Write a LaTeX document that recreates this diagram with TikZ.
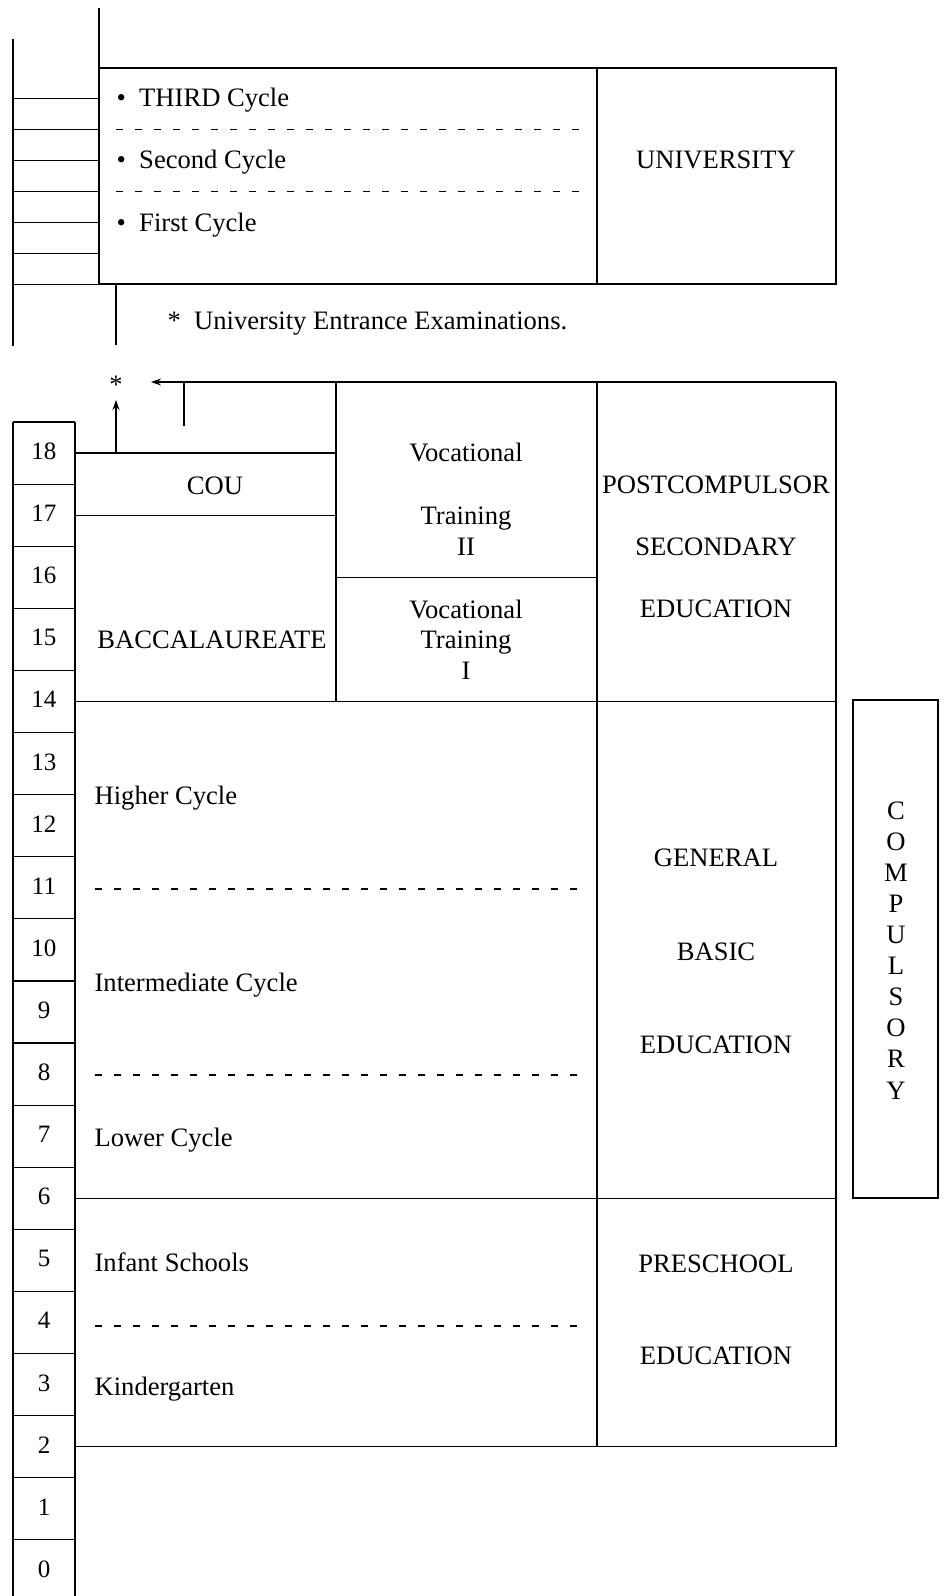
\documentclass[tikz,border=0pt]{standalone}
\usepackage{fontspec}
\setmainfont{Liberation Serif}
\usepackage{tikz}
\usetikzlibrary{arrows.meta}

\begin{document}
\begin{tikzpicture}[x=0.5pt,y=-0.5pt,line width=0.6pt,>={Stealth[length=5pt,width=3.5pt]},
    every node/.style={font=\fontsize{13.3}{16}\selectfont,inner sep=0pt,text height=10pt,text depth=0.5pt},
    cycline/.style={dash pattern=on 3.5pt off 6pt},
    agenum/.style={font=\fontsize{12.5}{15}\selectfont,text height=9pt,text depth=2.5pt}]
    \useasboundingbox (0,0) rectangle (944,1596);
    % university
    \draw (99,8) -- (99,284);
    \draw (13,38.7) -- (13,346);
    \foreach \r in {0,...,6} \draw (13,98.8+30.9*\r) -- (99,98.8+30.9*\r);
    \draw (99,68) rectangle (836,284);
    \draw (597,68) -- (597,284);
    \draw[cycline] (116,129.7) -- (586,129.7);
    \draw[cycline] (116,191.5) -- (586,191.5);
    \node[anchor=west] (third) at (116,96.7) {\textbullet\hspace{0.5em}THIRD Cycle};
    \node[anchor=west] (second) at (116,158.9) {\textbullet\hspace{0.5em}Second Cycle};
    \node[anchor=west] (first) at (116,222) {\textbullet\hspace{0.5em}First Cycle};
    \node (univ) at (716,158.9) {UNIVERSITY};
    % nota
    \draw (116,284) -- (116,345);
    \node[anchor=west] (note) at (167,320) {*\hspace{0.5em}University Entrance Examinations.};
    % edades
    \draw (13,422) -- (13,1596);
    \draw (75,422) -- (75,1596);
    \foreach \a in {0,...,18} {
        \pgfmathsetmacro{\ya}{422+(18.5-\a)*62.1}
        \node[agenum] (age\a) at (44,\ya) {\a};
        \draw (13,\ya-31.05) -- (75,\ya-31.05);
    }
    % secundaria
    \coordinate (vtop) at (336,382);
    \coordinate (leftTip) at (151,382);
    \coordinate (couTop) at (116,453.05);
    \coordinate (upTip) at (116,400);
    \draw (836,382) -- (vtop);
    \draw[->] (vtop) -- (leftTip);
    \draw (184,382) -- (184,425.6);
    \draw[->] (couTop) -- (upTip);
    \node (star) at (116,384) {*};
    \draw (75,453.05) -- (336,453.05);
    \draw (75,515.15) -- (336,515.15);
    \draw (vtop) -- (336,701.45);
    \draw (336,577.25) -- (597,577.25);
    \draw (75,701.45) -- (836,701.45);
    \draw (75,1198.25) -- (836,1198.25);
    \draw (75,1446.65) -- (836,1446.65);
    \draw (597,382) -- (597,1446.65);
    \draw (836,382) -- (836,1446.65);
    \node (cou) at (215,485) {COU};
    \node (bac) at (212,639) {BACCALAUREATE};
    \node (voc2a) at (466,452) {Vocational};
    \node (voc2b) at (466,515) {Training};
    \node (voc2c) at (466,546) {II};
    \node (voc1a) at (466,609) {Vocational};
    \node (voc1b) at (466,639) {Training};
    \node (voc1c) at (466,670) {I};
    \node (post1) at (716,484) {POSTCOMPULSOR};
    \node (post2) at (716,546) {SECONDARY};
    \node (post3) at (716,608) {EDUCATION};
    % EGB
    \node[anchor=west] (higher) at (94,795) {Higher Cycle};
    \draw[cycline] (95,889) -- (586,889);
    \node[anchor=west] (inter) at (94,982) {Intermediate Cycle};
    \draw[cycline] (95,1075) -- (586,1075);
    \node[anchor=west] (lower) at (94,1137) {Lower Cycle};
    \node (gen1) at (716,857) {GENERAL};
    \node (gen2) at (716,951) {BASIC};
    \node (gen3) at (716,1044) {EDUCATION};
    % obligatoria
    \draw (853,700) rectangle (938,1198);
    \foreach \l [count=\i from 0] in {C,O,M,P,U,L,S,O,R,Y}
        \node (comp\i) at (896,809.6+31.1*\i) {\l};
    % preescolar
    \node[anchor=west] (infant) at (94,1262) {Infant Schools};
    \draw[cycline] (95,1326) -- (586,1326);
    \node[anchor=west] (kinder) at (94,1386) {Kindergarten};
    \node (pre1) at (716,1263) {PRESCHOOL};
    \node (pre2) at (716,1355) {EDUCATION};
\end{tikzpicture}
\end{document}
